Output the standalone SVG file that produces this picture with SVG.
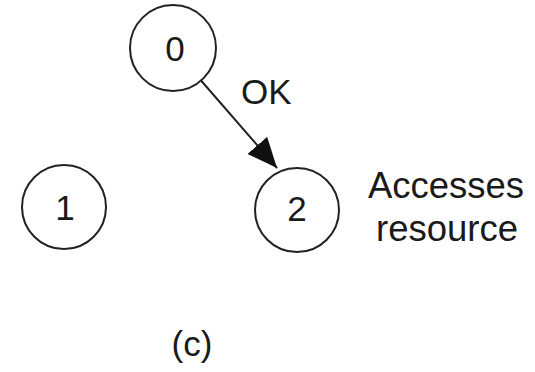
<svg xmlns="http://www.w3.org/2000/svg" width="535" height="372" viewBox="0 0 535 372">
  <style>
    .node circle { fill: #fff; stroke: #222; stroke-width: 2; }
    .lbl { font-family: "Liberation Sans", Arial, sans-serif; font-size: 35px; fill: #1a1a1a; }
    .note { font-size: 36.5px; text-anchor: middle; }
    .num { text-anchor: middle; dominant-baseline: central; }
    .edge { stroke: #222; stroke-width: 2; fill: none; }
  </style>
  <defs>
    <marker id="arrow" markerUnits="userSpaceOnUse" markerWidth="32" markerHeight="28" refX="30" refY="13" orient="auto">
      <path d="M0,0 L30,13 L0,26 Z" fill="#111"/>
    </marker>
  </defs>
  <rect width="535" height="372" fill="#fff"/>

  <g id="connectors">
    <line class="edge" x1="201" y1="80.5" x2="277" y2="168" marker-end="url(#arrow)"/>
    <text class="lbl" x="241" y="104">OK</text>
  </g>

  <g id="node-0" class="node">
    <circle cx="173" cy="48" r="43"/>
    <text class="lbl num" x="175" y="48">0</text>
  </g>

  <g id="node-1" class="node">
    <circle cx="64" cy="207" r="42"/>
    <text class="lbl num" x="65" y="207">1</text>
  </g>

  <g id="node-2" class="node">
    <circle cx="297" cy="210" r="42"/>
    <text class="lbl num" x="297" y="208">2</text>
  </g>

  <g id="note">
    <text class="lbl note" x="446" y="198">Accesses</text>
    <text class="lbl note" x="447" y="241">resource</text>
  </g>

  <g id="caption">
    <text class="lbl" x="192" y="356" text-anchor="middle">(c)</text>
  </g>
</svg>
